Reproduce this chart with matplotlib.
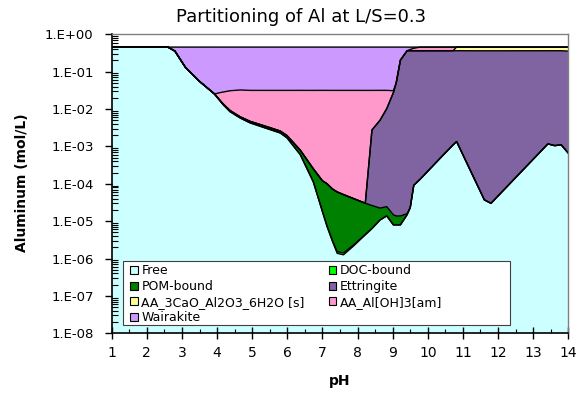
import numpy as np
import matplotlib
matplotlib.use("Agg")
import matplotlib.pyplot as plt
from matplotlib.patches import Patch, Rectangle
from matplotlib.ticker import FixedLocator, FuncFormatter, LogLocator, NullFormatter, MultipleLocator

# ---------------- data (mol/L, stacked series) ----------------
ph = [1.0, 2.0, 2.6, 2.8, 3.1, 3.5, 3.93, 4.04, 4.17, 4.37, 4.66, 4.94, 5.51, 5.80, 5.99,
      6.37, 6.74, 7.0, 7.13, 7.29, 7.42, 7.6, 7.87, 8.22, 8.41, 8.64, 8.83, 9.02, 9.1,
      9.22, 9.41, 9.5, 9.6, 9.78, 10.4, 10.72, 10.82, 11.61, 11.8, 13.42, 13.61, 13.8, 14.0]

free = [0.455, 0.455, 0.455, 0.355, 0.130, 0.055, 0.0251, 0.0186, 0.0132, 0.0085, 0.00575,
        0.00427, 0.00282, 0.00229, 0.00170, 6.0e-4, 1.12e-4, 1.78e-5, 7.2e-6, 2.8e-6, 1.38e-6,
        1.26e-6, 2.1e-6, 4.3e-6, 6.3e-6, 1.07e-5, 1.38e-5, 7.9e-6, 7.9e-6, 7.9e-6, 1.48e-5,
        2.3e-5, 9.1e-5, 1.32e-4, 5.4e-4, 1.1e-3, 1.35e-3, 3.7e-5, 3.0e-5, 1.17e-3, 1.05e-3,
        1.10e-3, 6.6e-4]

doc = [2e-6, 2e-6, 2e-6, 2e-6, 2e-6, 2e-6, 2e-6, 2e-6, 2e-6, 2e-6, 2e-6,
       2e-6, 2e-6, 2e-6, 2e-6, 1.5e-6, 1e-6, 5e-7, 3e-7, 1.5e-7, 1.5e-7,
       1.5e-7, 1.5e-7, 1.2e-7, 1e-7, 1e-7, 1e-7, 1e-7, 1e-7, 1e-7, 1e-7,
       1e-7, 1e-7, 1e-7, 1e-7, 1e-7, 1e-7, 1e-7, 1e-7, 1e-7, 1e-7,
       1e-7, 1e-7]

pom = [0, 0, 0, 0, 0, 0, 1e-4, 4e-4, 6.2e-4, 6.1e-4, 4.2e-4,
       4.1e-4, 3.4e-4, 2.8e-4, 2.5e-4, 1.9e-4, 1.39e-4, 1.02e-4, 9.3e-5, 6.9e-5, 5.9e-5,
       5.0e-5, 3.85e-5, 2.58e-5, 1.99e-5, 1.16e-5, 1.06e-5, 6.8e-6, 5.8e-6, 5.8e-6, 1.0e-6,
       2e-7, 0, 0, 0, 0, 0, 0, 0, 0, 0,
       0, 0]

ettringite = [0, 0, 0, 0, 0, 0, 0, 0, 0, 0, 0,
              0, 0, 0, 0, 0, 0, 0, 0, 0, 0,
              0, 0, 0, 2.73e-3, 5.0e-3, 0.0102, 0.0275, 0.050, 0.204, 0.363,
              0.363, 0.362, 0.362, 0.362, 0.362, 0.362, 0.362, 0.362, 0.362, 0.362,
              0.362, 0.355]

ca3al = [0, 0, 0, 0, 0, 0, 0, 0, 0, 0, 0,
         0, 0, 0, 0, 0, 0, 0, 0, 0, 0,
         0, 0, 0, 0, 0, 0, 0, 0, 0, 0,
         0, 0, 0, 0, 0, 0.092, 0.093, 0.093, 0.092, 0.092,
         0.092, 0.099]

aloh3 = [0, 0, 0, 0, 0, 0, 0, 0.0079, 0.0147, 0.0218, 0.0262,
         0.0269, 0.0284, 0.0290, 0.0296, 0.0308, 0.0313, 0.0315, 0.0315, 0.0315, 0.0315,
         0.0315, 0.0315, 0.0315, 0.0288, 0.0266, 0.0214, 0.0034, 0, 0, 0,
         0.030, 0.060, 0.092, 0.092, 0.092, 0, 0, 0, 0, 0,
         0, 0]

wairakite = [0, 0, 0, 0.100, 0.325, 0.400, 0.430, 0.428, 0.4265, 0.424, 0.4226,
             0.4234, 0.4234, 0.4234, 0.4234, 0.4234, 0.4234, 0.4234, 0.4234, 0.4234, 0.4234,
             0.4234, 0.4234, 0.4234, 0.4234, 0.4234, 0.4234, 0.424, 0.405, 0.251, 0.092,
             0.060, 0.033, 0, 0, 0, 0, 0, 0, 0, 0,
             0, 0]

names = ["Free", "DOC-bound", "POM-bound", "Ettringite",
         "AA_3CaO_Al2O3_6H2O [s]", "AA_Al[OH]3[am]", "Wairakite"]
colors = ["#CCFFFF", "#00FF00", "#008000", "#8064A2", "#FFFF99", "#FF99CC", "#CC99FF"]

# ---------------- figure ----------------
W, H = 581, 396
fig = plt.figure(figsize=(W / 100, H / 100), dpi=100)
L, R, T, B = 111.7, 568.3, 34.3, 333.3
ax = fig.add_axes([L / W, 1 - B / H, (R - L) / W, (B - T) / H])
ax.set_yscale("log")
ax.set_xlim(1, 14)
ax.set_ylim(1e-8, 1)

x = np.array(ph)
layers = [np.array(v, dtype=float) for v in (free, doc, pom, ettringite, ca3al, aloh3, wairakite)]
cum = np.cumsum(layers, axis=0)
base = np.full_like(x, 1e-9)
for i in range(len(layers)):
    lo = base if i == 0 else cum[i - 1]
    ax.fill_between(x, lo, cum[i], facecolor=colors[i], edgecolor="none", lw=0, zorder=1)
for i in range(len(layers)):
    ax.plot(x, cum[i], color="black", lw=1.0, zorder=2, solid_joinstyle="round")

# spines
for s in ("top", "right"):
    ax.spines[s].set_color("#808080")
    ax.spines[s].set_linewidth(1.0)
for s in ("left", "bottom"):
    ax.spines[s].set_color("black")
    ax.spines[s].set_linewidth(1.2)

# ticks
ax.set_xticks(range(1, 15))
ax.xaxis.set_minor_locator(MultipleLocator(0.5))
ax.tick_params(axis="x", which="major", direction="inout", length=8, width=1.0,
               labelsize=10, pad=5)
ax.tick_params(axis="x", which="minor", direction="in", length=3, width=0.8)

ax.yaxis.set_major_locator(FixedLocator([10.0 ** e for e in range(-8, 1)]))
ax.yaxis.set_major_formatter(FuncFormatter(lambda v, p: "1.E%+03d" % int(round(np.log10(v)))))
ax.yaxis.set_minor_locator(LogLocator(base=10, subs=np.arange(2, 10), numticks=100))
ax.yaxis.set_minor_formatter(NullFormatter())
ax.tick_params(axis="y", which="major", direction="out", length=5, width=1.0,
               labelsize=9.5, pad=8)
ax.tick_params(axis="y", which="minor", direction="in", length=4, width=0.8)

# texts
fig.text(301 / W, 1 - 22 / H, "Partitioning of Al at L/S=0.3", ha="center", va="baseline",
         fontsize=13)
fig.text(22 / W, 1 - 183 / H, "Aluminum (mol/L)", rotation=90, ha="center", va="center",
         fontsize=10, fontweight="bold")
fig.text(340 / W, 1 - 381 / H, "pH", ha="center", va="center", fontsize=10, fontweight="bold")

# legend box
bx0, by0, bx1, by1 = 122.7, 260.7, 510, 325
def to_ax(px, py):
    return (px - L) / (R - L), (B - py) / (B - T)
ax0, ay0 = to_ax(bx0, by1)
ax1, ay1 = to_ax(bx1, by0)
ax.add_patch(Rectangle((ax0, ay0), ax1 - ax0, ay1 - ay0, transform=ax.transAxes,
                       facecolor="white", edgecolor="#404040", lw=0.8, zorder=4))
order = [0, 2, 4, 6, 1, 3, 5]
handles = [Patch(facecolor=colors[i], edgecolor="black", lw=0.8) for i in order]
labels = [names[i] for i in order]
lx, ly = to_ax(bx0 + 5, by0 + 1)
leg = ax.legend(handles, labels, ncol=2, loc="upper left", bbox_to_anchor=(lx, ly),
                frameon=False, fontsize=9, handlelength=0.6, handleheight=0.6,
                handletextpad=0.3, columnspacing=1.9, labelspacing=0.22,
                borderpad=0.2, borderaxespad=0)
leg.set_zorder(5)

fig.savefig("out.png", dpi=100)
